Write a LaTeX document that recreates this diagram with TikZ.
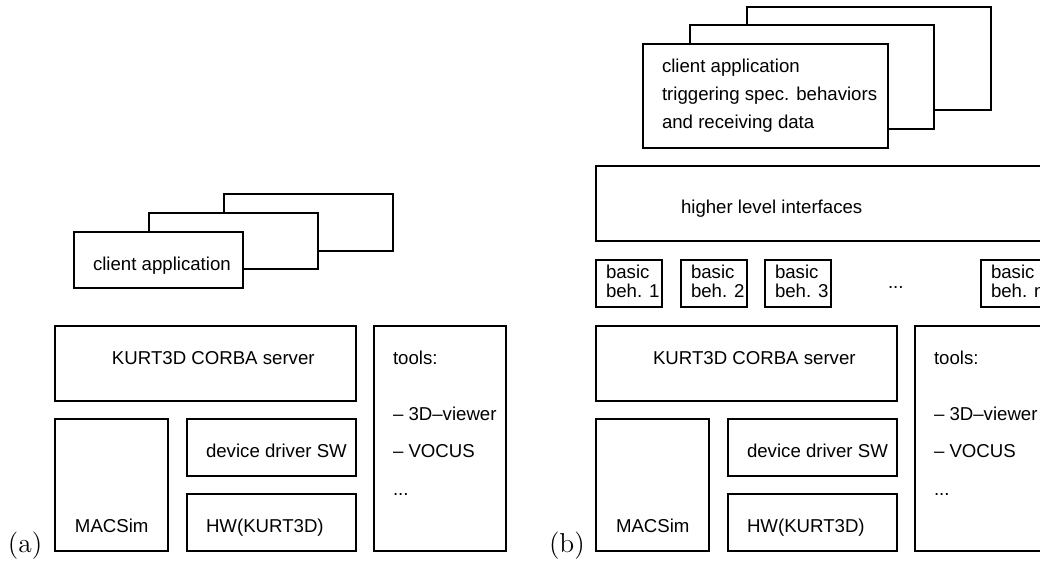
\documentclass[tikz,border=0pt]{standalone}
\usepackage{fontspec}
\setsansfont{Liberation Sans}
\begin{document}
\begin{tikzpicture}[x=0.5pt,y=-0.5pt,line width=0.6pt,
	every node/.style={inner sep=0pt,outer sep=0pt},
	txt/.style={anchor=base west,font=\sffamily\fontsize{9.32}{11}\selectfont},
	lbl/.style={anchor=base west,font=\fontsize{13.7}{16}\selectfont}]
				\useasboundingbox (0,0) rectangle (1040,563);
				\clip (0,0) rectangle (1040,563);
				% client stack (a)
				\draw[fill=white] (224,194) rectangle (393,251);
				\draw[fill=white] (149,213) rectangle (318,269);
				\draw[fill=white] (74,232) rectangle (243,288);
				\node[txt] (clientA) at (93,270) {client application};
				
				% client stack (b), base of the last line
				\draw[fill=white] (747,7) rectangle (991,110);
				\draw[fill=white] (690,25) rectangle (934,129);
				\draw[fill=white] (643,44) rectangle (888,148);
				\node[txt,align=left,font=\sffamily\fontsize{9.32}{14}\selectfont] (clientB) at (662,128)
					{client application\\triggering spec. behaviors\\and receiving data};
				
				% higher level interfaces
				\draw (596,166) rectangle (1047,241);
				\node[txt] (hli) at (681,213) {higher level interfaces};
				
				% basic behaviors
				\foreach \i/\x in {1/596,2/681,3/765,n/981}{
					\draw (\x,260) rectangle ++(66,47);
					\node[txt,align=left,font=\sffamily\fontsize{9.32}{9.5}\selectfont] (beh\i) at (\x+10,297) {basic\\beh. \i};
				}
				\node[txt] (behdots) at (888,288) {...};
				
				% server, drivers and tools in both panels
				\foreach \p/\dx in {a/0,b/541}{
					\draw (55+\dx,326) rectangle (356+\dx,401);
					\node[txt] (srv\p) at (112+\dx,364) {KURT3D CORBA server};
					\draw (55+\dx,419) rectangle (168+\dx,551);
					\node[txt] (sim\p) at (75+\dx,532) {MACSim};
					\draw (187+\dx,419) rectangle (356+\dx,476);
					\node[txt] (drv\p) at (206+\dx,457) {device driver SW};
					\draw (187+\dx,494) rectangle (356+\dx,551);
					\node[txt] (hw\p) at (206+\dx,532) {HW(KURT3D)};
					\draw (374+\dx,326) rectangle (506+\dx,551);
					\node[txt] (tools\p) at (393+\dx,364) {tools:};
					\node[txt] (viewer\p) at (393+\dx,420) {\textendash{} 3D\textendash viewer};
					\node[txt] (vocus\p) at (393+\dx,457) {\textendash{} VOCUS};
					\node[txt] (dots\p) at (393+\dx,495) {...};
					\node[lbl] (lbl\p) at (8+\dx,552) {(\p)};
				}

			\end{tikzpicture}
\end{document}
